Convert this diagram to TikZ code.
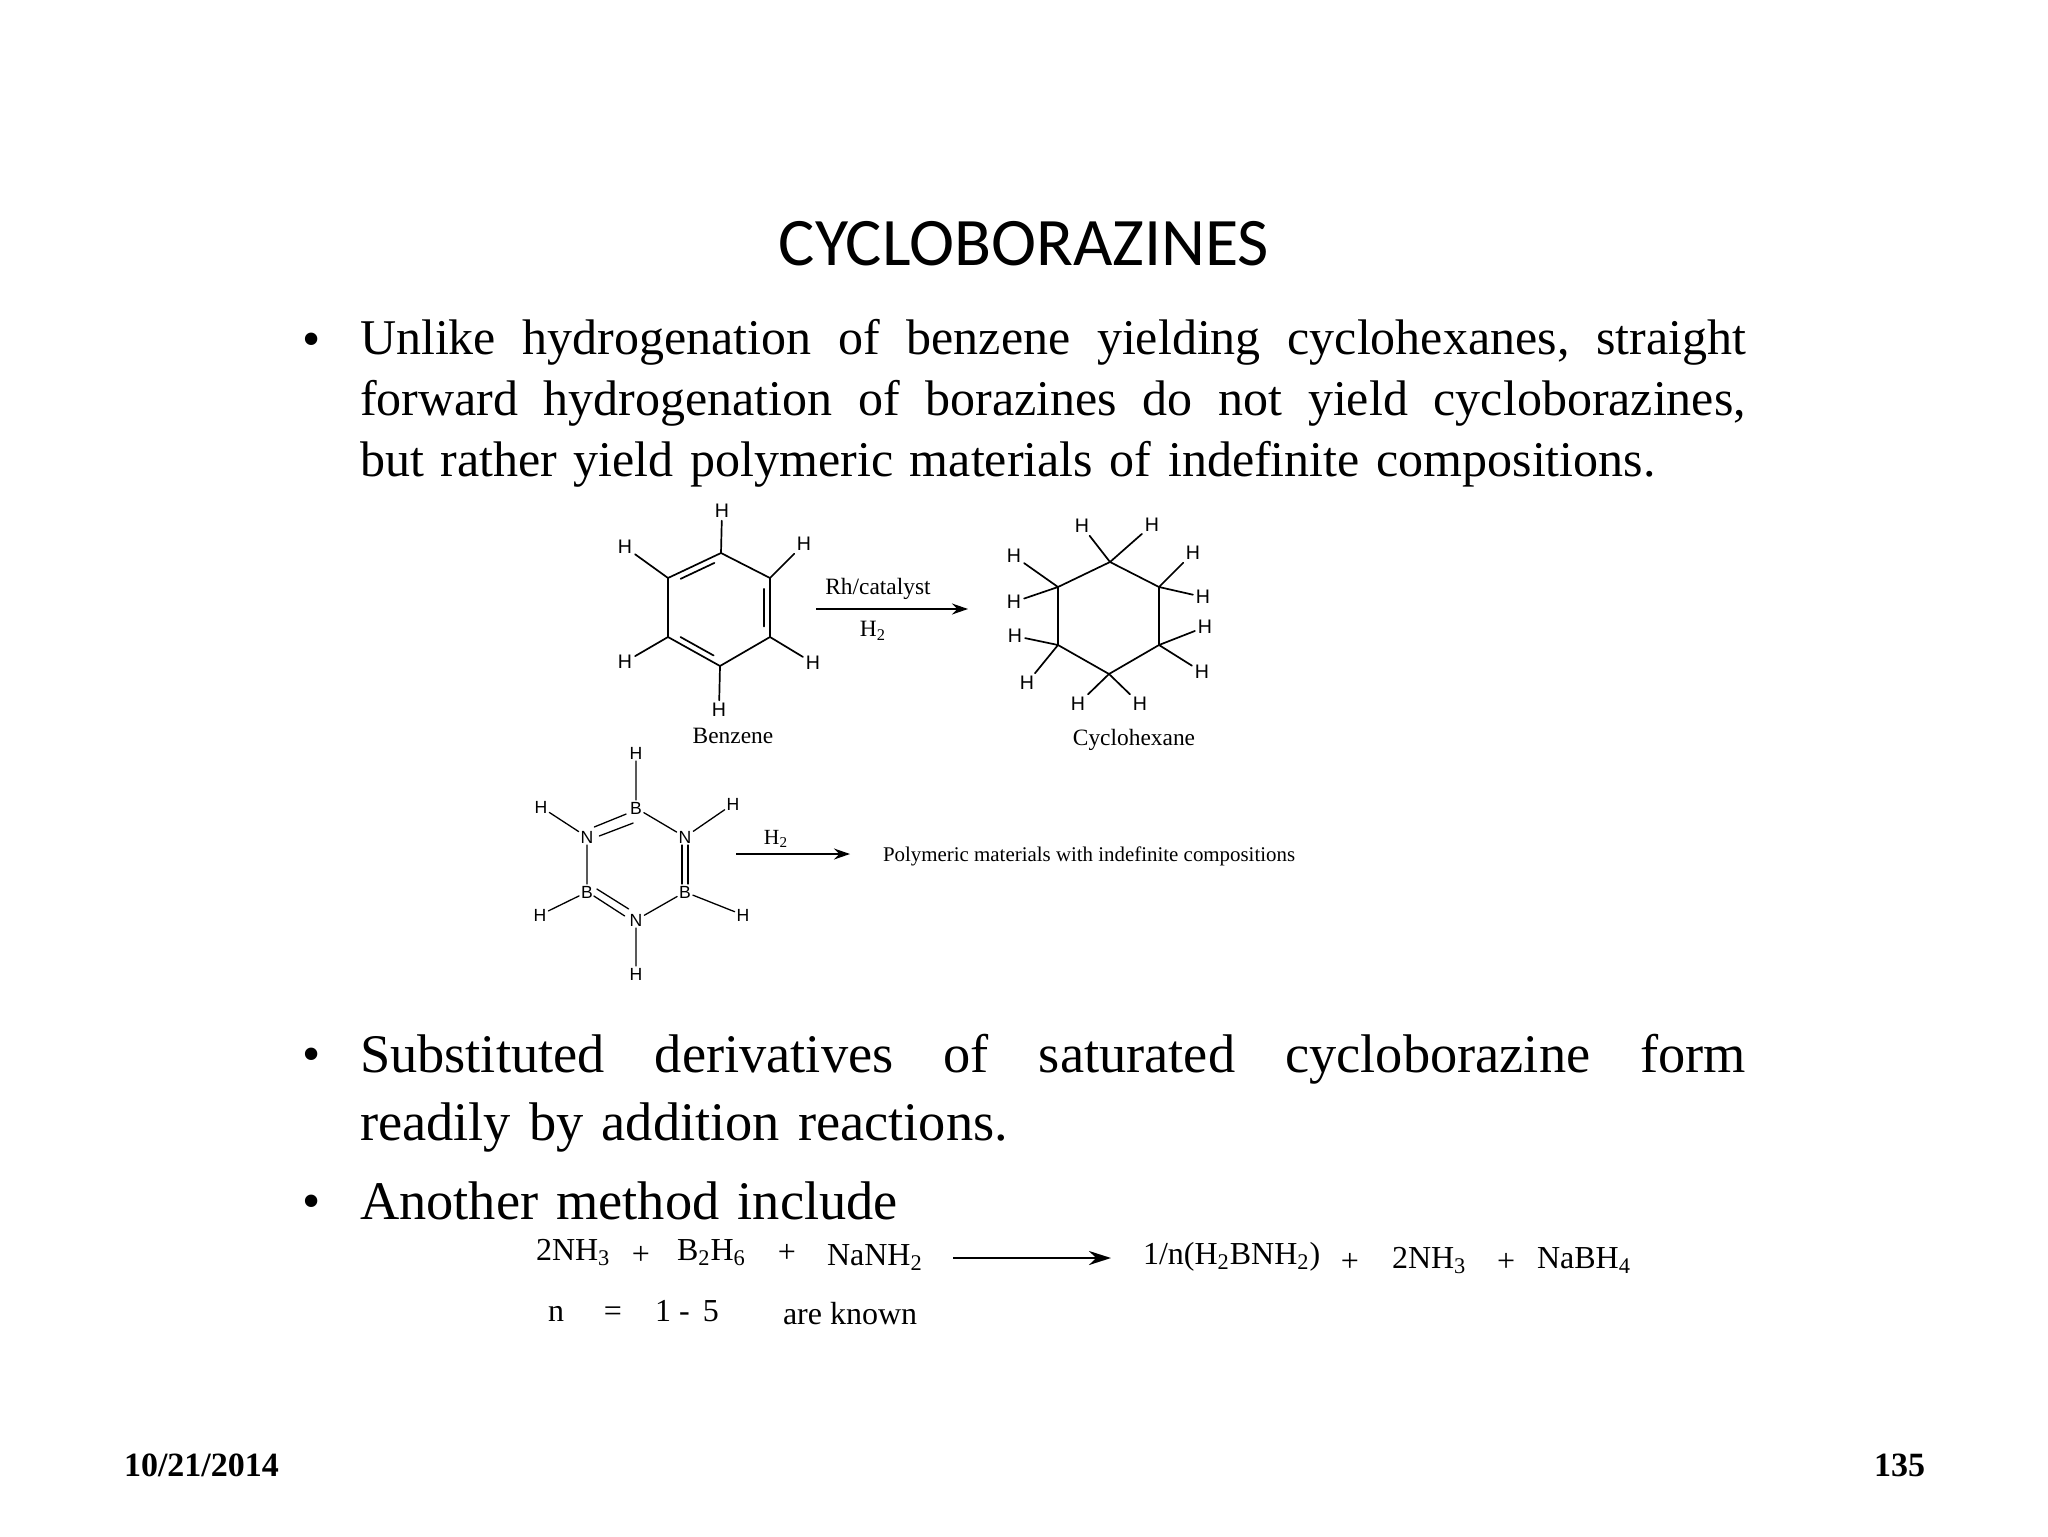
\documentclass[tikz,border=0pt]{standalone}
\usepackage{fontspec}
\setmainfont{Liberation Serif}
\newfontfamily\titlefont{Carlito}
\newfontfamily\chemfont{Liberation Sans}
\usetikzlibrary{arrows.meta,calc}
\newcommand{\sbs}[1]{\textsubscript{#1}}
\newcommand{\jg}{\hfill}
\newcommand{\jl}[1]{\leavevmode\hbox to 693pt{#1}}
\tikzset{
  x=0.5pt,y=-0.5pt,
  every node/.style={inner sep=0pt,outer sep=0pt},
  para/.style={anchor=north west,align=left,text width=693pt},
  parasmall/.style={para,font=\fontsize{25}{30.5}\selectfont},
  parabig/.style={para,font=\fontsize{27.2}{34}\selectfont},
  bulletmark/.style={font=\fontsize{26}{26}\selectfont,anchor=base},
  atomH/.style={font=\chemfont\fontsize{9.8}{10}\selectfont,inner sep=1.5pt},
  atomBN/.style={font=\chemfont\fontsize{8.8}{9}\selectfont,inner sep=1pt},
  capt/.style={font=\fontsize{11.7}{13}\selectfont},
  eqn/.style={font=\fontsize{16}{18}\selectfont},
  bond/.style={line width=0.85pt,line cap=round},
  thinbond/.style={line width=0.65pt,line cap=round},
  rx/.style={line width=0.75pt,-{Stealth[length=8pt,width=5.5pt]}},
  rxbig/.style={line width=1.3pt,-{Stealth[length=11pt,width=7pt]}},
  foot/.style={font=\bfseries\fontsize{17}{20}\selectfont},
}
\begin{document}
\begin{tikzpicture}
\useasboundingbox (0,0) rectangle (2048,1536);
\node[font=\titlefont\fontsize{34}{38}\selectfont] (title) at (1024,244) {CYCLOBORAZINES};

\node[bulletmark] (b1) at (312,356) {•};
\node[parasmall] (p1) at (360,319) {\jl{Unlike\jg hydrogenation\jg of\jg benzene\jg yielding\jg cyclohexanes,\jg straight}\\
\jl{forward\jg hydrogenation\jg of\jg borazines\jg do\jg not\jg yield\jg cycloborazines,}\\
but rather yield polymeric materials of indefinite compositions.};

% benzene
\coordinate (a1) at (721,553);
\coordinate (a2) at (770,578);
\coordinate (a3) at (770,637);
\coordinate (a4) at (720,666);
\coordinate (a5) at (668,637);
\coordinate (a6) at (668,578);
\coordinate (ac) at (719,609);
\draw[bond] (a1)--(a2)--(a3)--(a4)--(a5)--(a6)--cycle;
\draw[bond] ($(ac)!.86!(a6)!.12!(a1)$) -- ($(ac)!.86!(a1)!.12!(a6)$);
\draw[bond] ($(ac)!.86!(a2)!.12!(a3)$) -- ($(ac)!.86!(a3)!.12!(a2)$);
\draw[bond] ($(ac)!.86!(a4)!.12!(a5)$) -- ($(ac)!.86!(a5)!.12!(a4)$);
\node[atomH] (ah1) at (722,511) {H};
\node[atomH] (ah2) at (804,544) {H};
\node[atomH] (ah3) at (813,663) {H};
\node[atomH] (ah4) at (719,710) {H};
\node[atomH] (ah5) at (625,662) {H};
\node[atomH] (ah6) at (625,547) {H};
\foreach \i in {1,...,6} \draw[bond] (a\i) -- (ah\i);
\node[capt] (benz) at (733,736) {Benzene};

\node[capt] (rh) at (878,589) {Rh/catalyst};
\node[capt] (h2a) at (873,631) {H\sbs{2}};
\coordinate (r1s) at (816,609);
\coordinate (r1e) at (968,609);
\draw[rx] (r1s) -- (r1e);

% cyclohexane
\coordinate (c1) at (1110,562);
\coordinate (c2) at (1159,587);
\coordinate (c3) at (1159,645);
\coordinate (c4) at (1109,674);
\coordinate (c5) at (1058,645);
\coordinate (c6) at (1058,587);
\draw[bond] (c1)--(c2)--(c3)--(c4)--(c5)--(c6)--cycle;
\node[atomH] (ch1) at (1082,526) {H};
\node[atomH] (ch2) at (1152,525) {H};
\node[atomH] (ch3) at (1193,553) {H};
\node[atomH] (ch4) at (1203,597) {H};
\node[atomH] (ch5) at (1205,627) {H};
\node[atomH] (ch6) at (1202,672) {H};
\node[atomH] (ch7) at (1140,704) {H};
\node[atomH] (ch8) at (1078,704) {H};
\node[atomH] (ch9) at (1027,683) {H};
\node[atomH] (ch10) at (1015,636) {H};
\node[atomH] (ch11) at (1014,602) {H};
\node[atomH] (ch12) at (1014,556) {H};
\draw[bond] (c1)--(ch1) (c1)--(ch2) (c2)--(ch3) (c2)--(ch4) (c3)--(ch5) (c3)--(ch6)
  (c4)--(ch7) (c4)--(ch8) (c5)--(ch9) (c5)--(ch10) (c6)--(ch11) (c6)--(ch12);
\node[capt] (cyc) at (1134,740) {Cyclohexane};

% borazine
\node[atomBN] (bt) at (636,808) {B};
\node[atomBN] (nr) at (685,837) {N};
\node[atomBN] (br) at (685,892) {B};
\node[atomBN] (nb) at (636,920) {N};
\node[atomBN] (bl) at (587,892) {B};
\node[atomBN] (nl) at (587,837) {N};
\draw[thinbond] (bt)--(nr) (br)--(nb) (bl)--(nl);
\draw[thinbond] ($(nl.north east)+(-1,-2)$)--($(bt.south west)+(-2,-2)$);
\draw[thinbond] ($(nl.north east)+(4,7)$)--($(bt.south west)+(5,7)$);
\draw[thinbond] ($(nr.south)+(-3,0)$)--($(br.north)+(-3,0)$);
\draw[thinbond] ($(nr.south)+(3,0)$)--($(br.north)+(3,0)$);
\draw[thinbond] ($(bl.east)+(2,-3)$)--($(nb.north west)+(1,-3)$);
\draw[thinbond] ($(bl.east)+(-1,4)$)--($(nb.north west)+(-3,4)$);
\node[atomBN] (bht) at (636,753) {H};
\node[atomBN] (nhr) at (733,804) {H};
\node[atomBN] (bhr) at (743,915) {H};
\node[atomBN] (nhb) at (636,974) {H};
\node[atomBN] (bhl) at (540,915) {H};
\node[atomBN] (nhl) at (541,807) {H};
\draw[thinbond] (bt)--(bht) (nr)--(nhr) (br)--(bhr) (nb)--(nhb) (bl)--(bhl) (nl)--(nhl);
\node[font=\fontsize{10.8}{12}\selectfont] (h2b) at (776,839) {H\sbs{2}};
\coordinate (r2s) at (736,854);
\node[font=\fontsize{10.45}{12}\selectfont,anchor=west] (poly) at (883,856) {Polymeric materials with indefinite compositions};
\coordinate (r2e) at (850,854);
\draw[rx] (r2s) -- (r2e);

\node[bulletmark] (b2) at (312,1071) {•};
\node[parabig] (p2) at (360,1034) {\jl{Substituted\jg derivatives\jg of\jg saturated\jg cycloborazine\jg form}\\
readily by addition reactions.};
\node[bulletmark] (b3) at (312,1218) {•};
\node[parabig] (p3) at (360,1182) {Another method include};

% reaction
\node[eqn,anchor=base west] (e1) at (536,1260) {2NH\sbs{3}};
\node[eqn] (e2) at (641,1255) {+};
\node[eqn,anchor=base west] (e3) at (677,1260) {B\sbs{2}H\sbs{6}};
\node[eqn] (e4) at (787,1253) {+};
\node[eqn,anchor=base west] (e5) at (827,1265) {NaNH\sbs{2}};
\node[eqn,anchor=base west] (e6) at (1143,1264) {1/n(H\sbs{2}BNH\sbs{2})};
\coordinate (r3s) at (953,1258);
\coordinate (r3e) at (1111,1258);
\draw[rxbig] (r3s) -- (r3e);
\node[eqn] (e7) at (1350,1262) {+};
\node[eqn,anchor=base west] (e8) at (1392,1268) {2NH\sbs{3}};
\node[eqn] (e9) at (1506,1262) {+};
\node[eqn,anchor=base west] (e10) at (1537,1268) {NaBH\sbs{4}};
\node[eqn,anchor=base west] (e11) at (548,1321) {n};
\node[eqn,anchor=base] (e12) at (613,1321) {=};
\node[eqn,anchor=base west] (e13) at (655,1321) {1 -\, 5};
\node[eqn,anchor=base west] (e14) at (783,1324) {are known};

\node[foot,anchor=base west] (date) at (124,1476) {10/21/2014};
\node[foot,anchor=base east] (page) at (1925,1476) {135};
\end{tikzpicture}
\end{document}
